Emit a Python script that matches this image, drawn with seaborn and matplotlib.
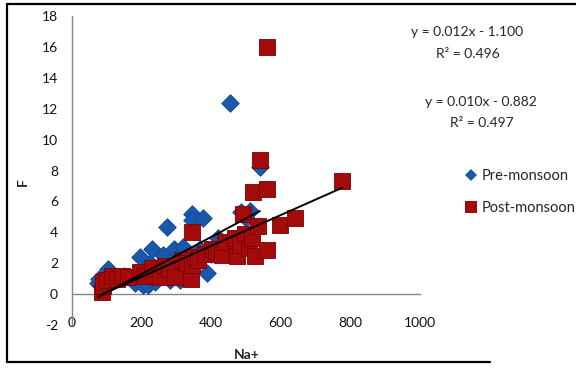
import matplotlib
matplotlib.use("Agg")
import matplotlib.pyplot as plt
from matplotlib.lines import Line2D
import seaborn as sns
import pandas as pd
import numpy as np

# ---- data ----
pre_na = [75, 78, 82, 95, 104, 120, 150, 181, 195, 204, 218, 224, 229, 238, 250,
          262, 267, 272, 282, 294, 300, 310, 320, 330, 344, 344, 368, 377, 387,
          400, 420, 454, 470, 487, 500, 511, 520, 540]
pre_f = [0.7, 1.0, 0.5, 0.9, 1.6, 1.1, 1.2, 0.7, 2.4, 0.58, 0.6, 2.0, 2.95, 0.8, 1.5,
         2.55, 1.7, 4.35, 0.9, 2.95, 1.8, 0.9, 3.05, 2.3, 5.2, 4.8, 2.95, 4.95, 1.35,
         2.6, 3.6, 12.4, 3.2, 5.3, 4.9, 5.4, 4.0, 8.2]

post_na = [85, 88, 90, 100, 114, 130, 143, 160, 195, 210, 229, 253, 267, 280, 296,
           315, 330, 341, 344, 344, 354, 363, 382, 401, 414, 430, 440, 468, 473,
           482, 492, 497, 510, 516, 519, 526, 535, 540, 559, 559, 560, 598, 641, 775]
post_f = [0.15, 0.5, 0.8, 0.9, 1.2, 1.0, 1.2, 1.1, 1.45, 1.2, 1.7, 1.1, 1.8, 1.6, 1.1,
          2.2, 2.0, 1.0, 1.9, 4.0, 2.4, 2.2, 2.6, 2.95, 2.8, 2.5, 3.4, 3.6, 2.45,
          3.2, 5.2, 3.9, 3.0, 3.6, 6.6, 2.45, 4.4, 8.65, 6.8, 2.85, 16.0, 4.5, 4.95, 7.3]

series_names = ["Pre-monsoon", "Post-monsoon"]
slopes = [0.012, 0.010]
intercepts = [-1.100, -0.882]
r2_values = [0.496, 0.497]

x_ticks = [0, 200, 400, 600, 800, 1000]
y_ticks = [-2, 0, 2, 4, 6, 8, 10, 12, 14, 16, 18]

# ---- style ----
sns.set_style("white")
plt.rcParams["font.family"] = ["Lato", "DejaVu Sans"]

blue = "#1A58AC"
red = "#A50A0A"
axis_gray = "#868686"

df = pd.concat([
    pd.DataFrame({"Na+": pre_na, "F": pre_f, "Season": series_names[0]}),
    pd.DataFrame({"Na+": post_na, "F": post_f, "Season": series_names[1]}),
], ignore_index=True)

W, H = 576, 373
fig = plt.figure(figsize=(W / 100, H / 100), dpi=100)
fig.patch.set_facecolor("white")
ax = fig.add_axes([72 / W, 1 - 325 / H, (420 - 72) / W, (325 - 16) / H])

sns.scatterplot(data=df[df.Season == series_names[0]], x="Na+", y="F",
                marker="D", s=80, color=blue, edgecolor="#0E4590",
                linewidth=0.6, ax=ax, legend=False, zorder=3)
sns.scatterplot(data=df[df.Season == series_names[1]], x="Na+", y="F",
                marker="s", s=135, color=red, edgecolor="#7A0000",
                linewidth=0.6, ax=ax, legend=False, zorder=4)

# trendlines from the stated equations, over each series' range
for xs, m, b in [(pre_na, slopes[0], intercepts[0]), (post_na, slopes[1], intercepts[1])]:
    xx = np.array([min(xs), max(xs)])
    ax.plot(xx, m * xx + b, color="black", lw=1.4, zorder=5)

ax.set_xlim(0, 1000)
ax.set_ylim(-2, 18)
ax.set_xticks(x_ticks)
ax.set_yticks(y_ticks)
ax.set_xticklabels([str(v) for v in x_ticks])
ax.set_yticklabels([str(v) for v in y_ticks])
ax.set_xlabel("")
ax.set_ylabel("")

for s in ["top", "right"]:
    ax.spines[s].set_visible(False)
ax.spines["left"].set_color(axis_gray)
ax.spines["left"].set_linewidth(1.0)
ax.spines["bottom"].set_position(("data", 0))
ax.spines["bottom"].set_color(axis_gray)
ax.spines["bottom"].set_linewidth(1.0)

ax.tick_params(axis="y", direction="out", length=5, width=1, color=axis_gray,
               pad=5, labelsize=10, labelcolor="#111111")
ax.tick_params(axis="x", direction="out", length=5, width=1, color=axis_gray,
               pad=11.5, labelsize=10, labelcolor="#111111")
ax.patch.set_alpha(0)

# axis titles
fig.text(23 / W, 1 - 182 / H, "F", rotation=90, fontsize=10, fontweight="bold",
         ha="center", va="center")
fig.text(247 / W, 1 - 355 / H, "Na+", fontsize=10, fontweight="bold",
         ha="center", va="center")

# equations
eq_pos = [((467, 32), (468, 54)), ((481, 102), (482, 123))]
for (p1, p2), m, b, r2 in zip(eq_pos, slopes, intercepts, r2_values):
    fig.text(p1[0] / W, 1 - p1[1] / H, f"y = {m:.3f}x - {abs(b):.3f}",
             fontsize=10, ha="center", va="center")
    fig.text(p2[0] / W, 1 - p2[1] / H, f"R² = {r2:.3f}",
             fontsize=10, ha="center", va="center")

# legend
handles = [
    Line2D([], [], marker="D", ls="", color=blue, markersize=6.5, markeredgewidth=0),
    Line2D([], [], marker="s", ls="", color=red, markersize=8, markeredgewidth=0),
]
fig.legend(handles, series_names, loc="center left",
           bbox_to_anchor=(458 / W, 1 - 192 / H), frameon=False, fontsize=10.5,
           handlelength=0.8, handletextpad=0.3, labelspacing=1.2, borderpad=0)

# outer frame (left, top, partial bottom)
for xs, ys in [([7, 7], [4, 362]), ([7, 576], [4, 4]), ([7, 490], [362, 362])]:
    fig.add_artist(Line2D([x / W for x in xs], [1 - y / H for y in ys],
                          transform=fig.transFigure, color="black", lw=1.6))

fig.savefig("out.png", dpi=100, facecolor="white")
